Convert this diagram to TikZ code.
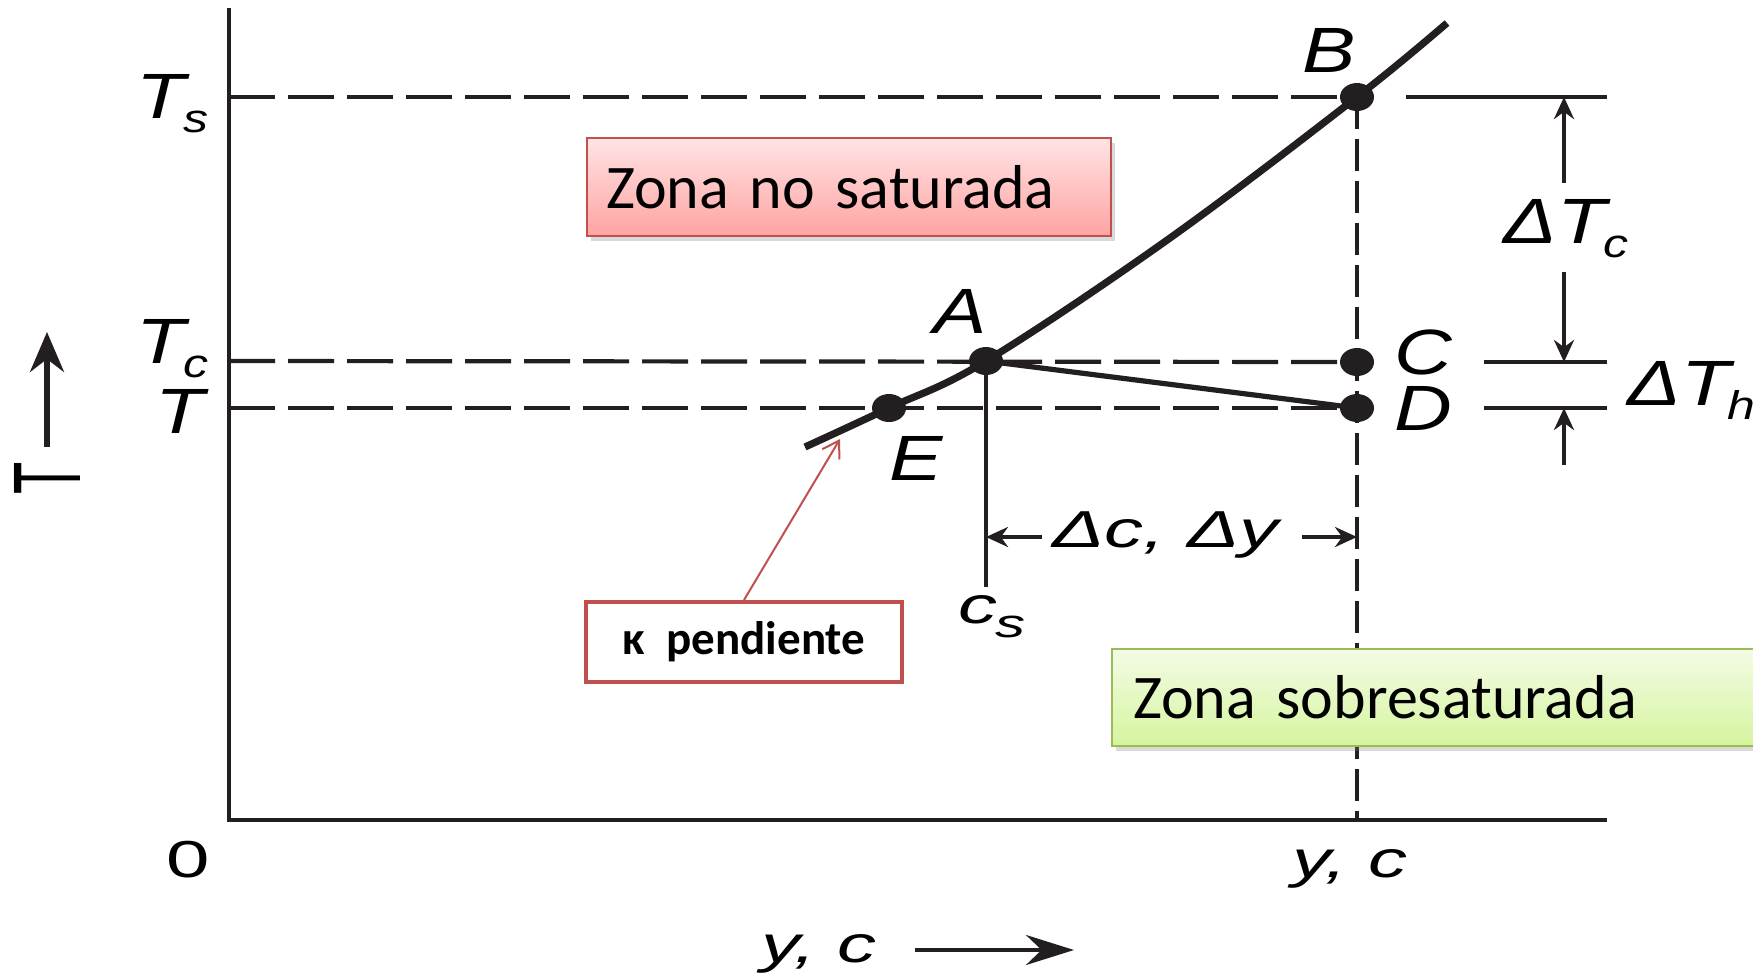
\documentclass[tikz,border=0pt]{standalone}
\usepackage{fontspec}
\newfontfamily\zonafont{Carlito}
\newfontfamily\lblfont[FakeStretch=1.25]{Liberation Sans}
\newfontfamily\lblwide[FakeStretch=1.5]{Liberation Sans}
\newfontfamily\lblnarrow[FakeStretch=0.55]{Liberation Sans}
\definecolor{InkBlack}{HTML}{231F20}
\definecolor{OfficeRed}{HTML}{C0504D}
\definecolor{PinkTop}{HTML}{FFE4E4}
\definecolor{PinkBottom}{HTML}{FFA3A3}
\definecolor{OfficeGreen}{HTML}{9BBB59}
\definecolor{GreenTop}{HTML}{F4FBE6}
\definecolor{GreenBottom}{HTML}{D5F59E}
\usetikzlibrary{arrows.meta,shadows}

\newcommand{\subl}[2]{#1\kern-1pt\raisebox{-7pt}{\fontsize{20}{20}\selectfont #2}}

\begin{document}
\begin{tikzpicture}[x=0.5pt,y=-0.5pt,
        axisline/.style={line width=2.3pt,InkBlack},
        levelline/.style={line width=2.1pt,InkBlack,dash pattern=on 23pt off 6.5pt},
        dropline/.style={line width=2.1pt,InkBlack,dash pattern=on 16pt off 5pt},
        plainline/.style={line width=2.1pt,InkBlack},
        curveline/.style={line width=3.6pt,InkBlack},
        dimarrow/.style={line width=1.8pt,InkBlack,-{Stealth[length=11pt,width=10pt]}},
        bigarrow/.style={line width=2.6pt,InkBlack,-{Stealth[length=20pt,width=17pt]}},
        redarrow/.style={line width=1pt,OfficeRed,-{Straight Barb[length=8pt,width=10pt]}},
        caplbl/.style={font=\lblfont\itshape\fontsize{32}{32}\selectfont,inner sep=0pt,anchor=base west},
        lowlbl/.style={font=\lblwide\itshape\fontsize{26}{26}\selectfont,inner sep=0pt,anchor=base west},
        zonebox/.style={draw,line width=1pt,anchor=north west,align=left,inner ysep=0pt,
            font=\zonafont\fontsize{31}{31}\selectfont,
            drop shadow={shadow xshift=2pt,shadow yshift=-2.5pt,opacity=0.3}},
        slopebox/.style={draw=OfficeRed,line width=2pt,fill=white,minimum width=158pt,minimum height=40pt,
            font=\zonafont\bfseries\fontsize{23.5}{23.5}\selectfont},
    ]
    \useasboundingbox (0,0) rectangle (1753,976);

    % Points of the diagram
    \coordinate (origin) at (229,820);
    \coordinate (yTop) at (229,8);
    \coordinate (xEnd) at (1607,820);
    \coordinate (curveStart) at (805,447);
    \coordinate (E) at (889,408);
    \coordinate (A) at (986,361);
    \coordinate (curveMid) at (1170,238);
    \coordinate (B) at (1357,97);
    \coordinate (curveEnd) at (1447,23);
    \coordinate (C) at (1357,362);
    \coordinate (D) at (1357,408);
    \coordinate (csFoot) at (986,587);

    % Dashed levels
    \draw[levelline] (origin |- B) -- (B);
    \draw[levelline] (origin |- A) -- (C);
    \draw[levelline] (origin |- E) -- (D);
    \draw[dropline] (B) -- (origin -| B);

    % Right ends of the levels
    \coordinate (tsRight) at (1406,97);
    \coordinate (tcRight) at (1484,362);
    \coordinate (tRight) at (1484,408);
    \draw[plainline] (tsRight) -- (tsRight -| xEnd);
    \draw[plainline] (tcRight) -- (tcRight -| xEnd);
    \draw[plainline] (tRight) -- (tRight -| xEnd);

    % Axes
    \draw[axisline] (yTop) -- (origin) -- (xEnd);

    % Solubility curve and cooling path
    \draw[curveline] plot[smooth,tension=0.6] coordinates {(curveStart) (E) (A) (curveMid) (B) (curveEnd)};
    \draw[plainline,line width=2.6pt] (A) -- (D);
    \draw[plainline,line width=2.4pt] (A) -- (csFoot);
    \foreach \pt in {E,A,B,C,D}
        \fill[InkBlack] (\pt) ellipse [x radius=8.5pt,y radius=7pt];

    % Point and level labels
    \node[caplbl] (lTs) at (136,118) {\subl{T}{s}};
    \node[caplbl] (lTc) at (136,363) {\subl{T}{c}};
    \node[caplbl] (lT) at (155,433) {T};
    \node[caplbl] (lA) at (933,333) {A};
    \node[caplbl] (lB) at (1302,72) {B};
    \node[caplbl,text height=20pt,text depth=0pt] (lC) at (1394,374) {C};
    \node[caplbl,text height=20pt,text depth=0pt] (lD) at (1394,430) {D};
    \node[caplbl] (lE) at (889,480) {E};
    \node[caplbl] (dTc) at (1503,243) {Δ\subl{T}{c}};
    \node[caplbl] (dTh) at (1627,405) {Δ\subl{T}{h}};
    \node[lowlbl] (lcs) at (958,623) {\subl{c}{s}};
    \node[lowlbl] (dcy) at (1052,547) {Δc, Δy};
    \node[lowlbl,font=\lblwide\fontsize{26}{26}\selectfont] (lzero) at (166,877) {0};
    \node[lowlbl] (lyc) at (1292,877) {y, c};
    \node[lowlbl] (xlab) at (761,962) {y, c};
    \node[font=\lblnarrow\fontsize{48}{48}\selectfont,rotate=90,inner sep=0pt] (ylab) at (47,478) {T};

    % Difference arrows
    \coordinate (dTcUp) at (1564,183);
    \coordinate (dTcDown) at (1564,272);
    \coordinate (dThUp) at (1564,465);
    \coordinate (dcLeft) at (1042,537);
    \coordinate (dcRight) at (1302,537);
    \draw[dimarrow] (dTcUp) -- (dTcUp |- B);
    \draw[dimarrow] (dTcDown) -- (dTcDown |- C);
    \draw[dimarrow] (dThUp) -- (dThUp |- D);
    \draw[dimarrow] (dcLeft) -- (dcLeft -| A);
    \draw[dimarrow] (dcRight) -- (dcRight -| D);

    % Axis arrows
    \coordinate (tArrowTail) at (47,447);
    \coordinate (tArrowTip) at (47,332);
    \coordinate (xArrowTail) at (915,950);
    \coordinate (xArrowTip) at (1074,950);
    \draw[bigarrow] (tArrowTail) -- (tArrowTip);
    \draw[line width=2pt,InkBlack,-{Stealth[length=24pt,width=15pt]}] (xArrowTail) -- (xArrowTip);

    % Zone boxes
    \node[zonebox,draw=OfficeRed,top color=PinkTop,bottom color=PinkBottom,
        text width=243pt,inner xsep=9.5pt,minimum height=49pt] (unsat) at (586,137) {Zona no saturada};
    \node[zonebox,draw=OfficeGreen,top color=GreenTop,bottom color=GreenBottom,
        text width=308pt,inner xsep=10.5pt,minimum height=48.5pt] (supersat) at (1111,648) {Zona sobresaturada};

    % Slope note
    \node[slopebox] (slope) at (744,642) {κ\ \ pendiente};
    \coordinate (slopeTip) at (840,439);
    \draw[redarrow] (slope.north) -- (slopeTip);
\end{tikzpicture}
\end{document}
